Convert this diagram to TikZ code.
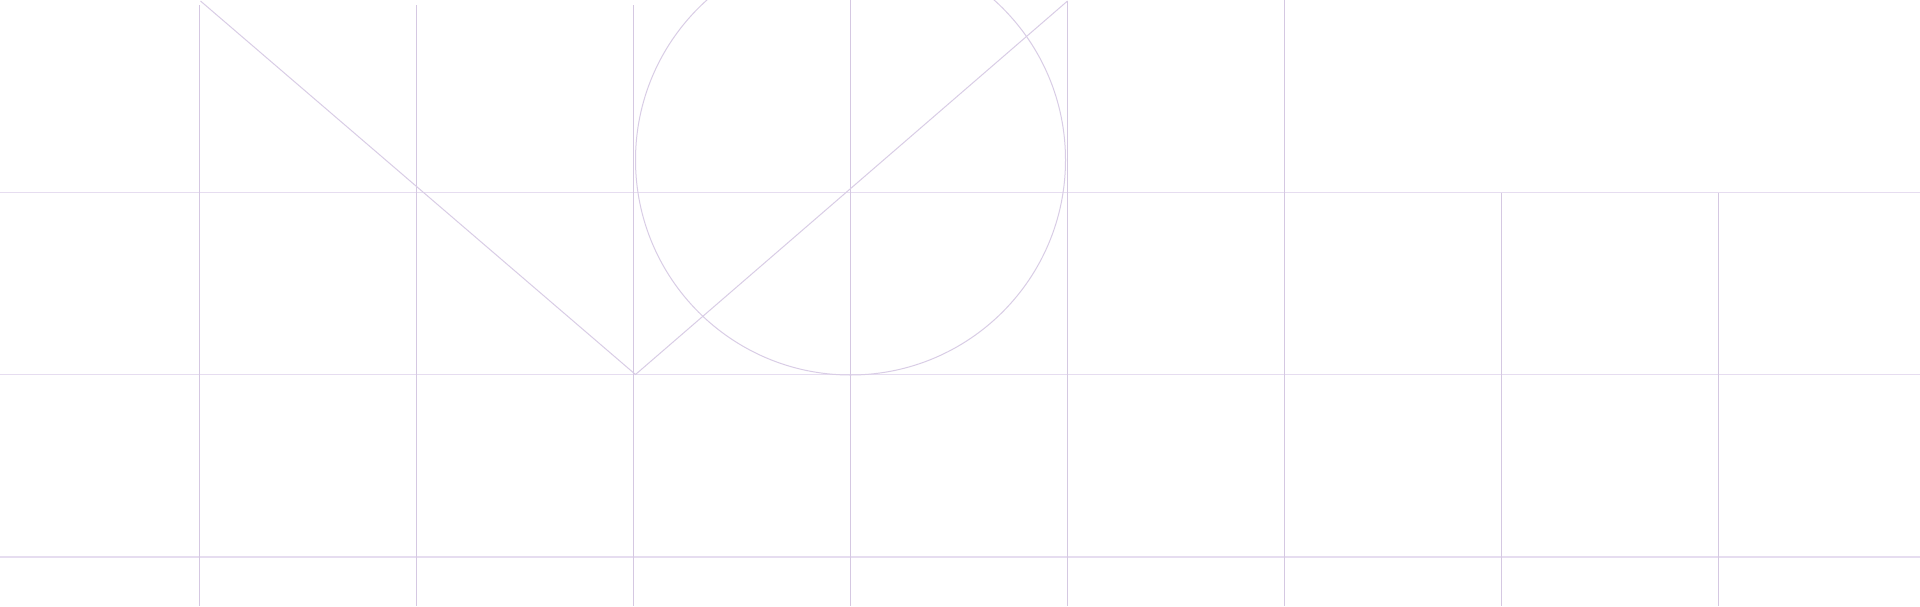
\documentclass[tikz,border=0pt]{standalone}
\usepackage{tikz}
\definecolor{gridlilac}{HTML}{D5C8E2}
\definecolor{rulelilac}{HTML}{E6DDF0}
\definecolor{sketchlilac}{HTML}{D9CDE6}

\begin{document}
\begin{tikzpicture}[x=0.5pt, y=-0.5pt,
  vline/.style={draw=gridlilac, line width=0.5pt},
  hline/.style={draw=rulelilac, line width=0.6pt},
  sketch/.style={draw=sketchlilac, line width=0.5pt}]

  \fill[white] (0,0) rectangle (1920,606);
  \clip (0,0) rectangle (1920,606);

  % horizontal rules
  \foreach \y in {192.5,374.5,557}
    \draw[hline] (0,\y) -- (1920,\y);

  % columns, top end differs
  \foreach \x/\top in {199.5/5, 416.5/5, 633.5/5, 850.5/0,
    1067.5/1, 1284.5/0, 1501.5/192.5, 1718.5/192.5}
    \draw[vline] (\x,\top) -- (\x,606);

  \coordinate (vleft) at (200.5,1);
  \coordinate (vbase) at (635.5,374.5);
  \coordinate (vright) at (1067.5,1);
  \draw[sketch] (vleft) -- (vbase) -- (vright);

  \coordinate (ring) at (850.5,160);
  \draw[sketch] (ring) circle[radius=215];

\end{tikzpicture}
\end{document}
